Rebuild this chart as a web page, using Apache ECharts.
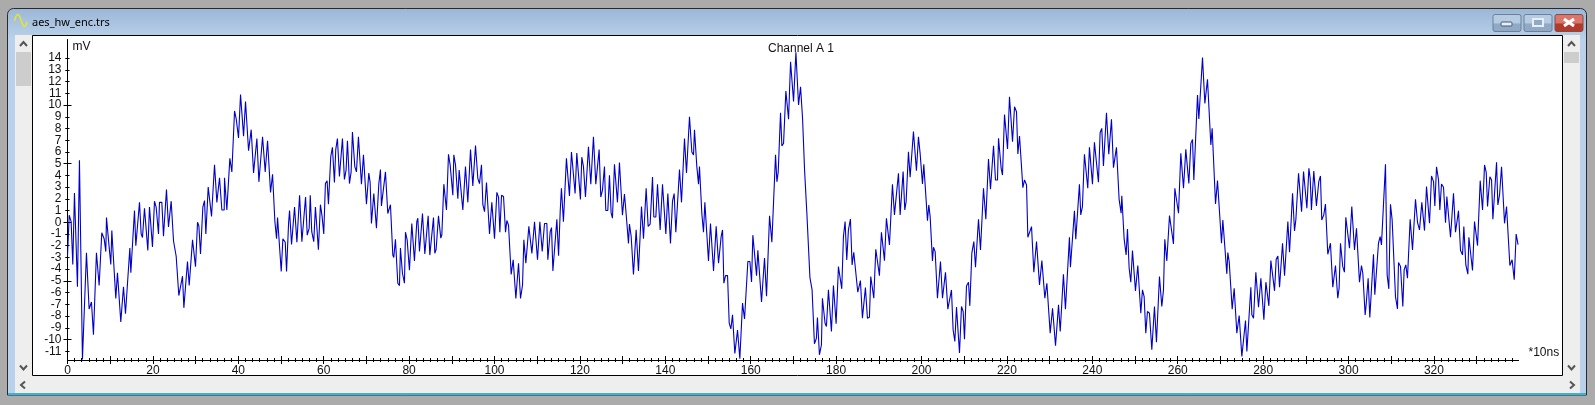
<!DOCTYPE html>
<html><head><meta charset="utf-8">
<style>html,body{margin:0;padding:0;background:#ababab}#c{width:1595px;height:405px}</style>
<script src="https://cdn.jsdelivr.net/npm/echarts@6/dist/echarts.min.js"></script>
</head><body><div id="c"></div>
<script>
const windowTitle = 'aes_hw_enc.trs';
const chartTitle = 'Channel A 1';
const yUnit = 'mV';
const xUnit = '*10ns';
// [time in units of 10 ns, millivolts]
const trace0to57 = [[0,-2.9],[0.4,0.6],[0.85,0.05],[1.24,-3.6],[1.63,2.5],[2.33,-5.5],[2.8,5.3],[3.5,-11.7],[4.44,-2.6],[5.06,-7.4],[5.61,-6.8],[6.08,-9.6],[6.78,-2.6],[7.41,-5.4],[8.03,-0.9],[8.58,-1.4],[8.97,-2.5],[9.13,0.4],[9.75,-2.1],[10.14,-3.6],[10.38,-0.7],[11.31,-6.5],[11.7,-4.3],[12.48,-8.5],[13.11,-5.5],[13.58,-7.8],[14.6,-2.2],[14.83,-4.3],[15.69,1],[16,-2],[16.86,1.7],[17.25,-1],[17.56,-1.3],[18.03,1.2],[18.81,-2.4],[19.2,1.3],[19.9,-2.1],[20.37,1.8],[20.76,1.3],[21.31,-1],[21.54,1.7],[22.09,1.7],[22.48,-1.2],[23.18,2.8],[23.65,-0.4],[24.28,1.8],[24.83,-1.6],[25.45,-2.9],[26.07,-6.25],[26.39,-6.3],[26.93,-4.6],[27.25,-7.3],[27.56,-7.4],[28.1,-3.35],[28.5,-5.4],[28.8,-5.5],[29.28,-1.5],[29.98,-3.8],[30.45,0],[30.76,-0.3],[31.15,-2.7],[31.7,1.3],[32.09,1.85],[32.4,-1],[32.95,3],[33.73,0.5],[34.43,4.9],[34.98,1.7],[35.6,3.8],[36.15,1.05],[36.7,1.05],[36.77,3.8],[37.32,1.05],[37.71,1.05],[38.02,5.45],[38.49,4.3],[38.88,4.2],[39.12,9.5],[39.5,8.85],[40.05,7.2],[40.52,10.9],[41.23,7.35],[41.69,10.3],[42.4,6.1],[43.02,7.9],[43.41,7.9],[43.57,4.2],[44.35,7.15],[44.82,3.45],[45.68,7.3],[46.3,4.3],[46.85,6.95],[47.55,2.55],[48.02,4.1],[48.57,0.05],[48.96,-1.4],[49.19,0.4],[50.05,-4.2],[50.44,-1.4],[50.99,-1.7],[51.3,-4.2],[51.77,-0.1],[52,1],[52.47,-1.9],[53.17,1.3],[53.72,-1.7],[54.35,2.3],[54.89,-1.65],[55.75,2.15],[56.14,-1.1],[56.6,-0.5],[56.85,2.3]];
const trace57to115 = [[57.2,-0.8],[57.67,-1.65],[58.06,1.3],[58.76,-2.35],[59.23,1.5],[59.62,0.5],[60.01,-1],[60.4,3.3],[60.79,3.55],[61.11,1.55],[61.65,5.6],[62.04,6.4],[62.51,3.4],[62.82,6.2],[63.21,7.15],[63.68,3.9],[64.39,7.15],[64.85,3.65],[65.24,4.45],[65.56,6.95],[66.03,3.3],[66.42,4.3],[66.73,7.7],[67.28,4.75],[67.67,4.3],[68.13,7.3],[68.84,3.25],[69.31,5.75],[70.01,1.55],[70.56,4.2],[70.87,3.4],[71.18,-0.1],[71.73,2.45],[72.12,2.3],[72.35,-0.5],[72.9,3.25],[73.29,4.5],[73.52,1.4],[74.46,4.3],[75.01,0.75],[75.4,0.75],[75.63,1.5],[76.18,-2.8],[76.41,-3],[76.8,-1.45],[77.35,-5.2],[77.74,-5.4],[77.97,-2.2],[78.44,-4.35],[78.91,-5.2],[79.15,-0.85],[79.54,-1.5],[80.08,-4.1],[80.63,-0.1],[81.25,-3.3],[81.8,0.05],[82.04,0.35],[82.43,-2.5],[83.13,0.75],[83.68,-2.7],[84.46,0.55],[84.85,-2.8],[85.71,0.4],[86.02,-2.65],[86.33,-2.3],[86.88,0.55],[87.42,-1.35],[87.66,-1.1],[88.13,3.25],[88.75,1.05],[89.22,5.8],[89.61,4.9],[90.24,2.3],[90.47,5.75],[90.86,4.9],[91.41,2],[91.72,4.45],[92.11,4.55],[92.58,1.05],[93.2,4.75],[93.75,1.7],[94.38,6.2],[94.92,3.1],[95.55,6.55],[96.09,3.75],[96.48,3.3],[96.95,4.9],[97.27,1.5],[97.66,0.9],[98.12,3.4],[98.83,-1],[99.37,1.7],[100,-1.4],[100.55,2.55],[100.94,2.15],[101.25,-0.85],[101.64,2.3],[102.11,2.2],[102.58,-0.85],[102.89,0.15],[103.28,-0.25],[103.9,-4.45],[104.37,-3.2],[105,-6.5],[105.62,-3.5],[106.09,-6.5],[106.56,-5.35],[106.87,-1.5],[107.34,-3.5],[107.73,-3.35],[108.04,-0.35],[108.75,-2.65],[109.37,0.05],[110.07,-3.2],[110.62,0.05],[111.17,-2.5],[111.71,-0.1],[112.26,-0.1],[112.49,-3.2],[113.04,-0.8],[113.35,-0.45],[113.67,-4.15],[114.6,0.25],[115,-2.85],[115.38,0.9]];
const trace115to174 = [[115.67,2.9],[116.14,0.05],[116.84,5.45],[117.55,2.25],[118.02,6],[118.87,2.45],[119.27,5.9],[120.12,1.95],[120.44,5.55],[120.83,4.75],[121.3,2.15],[122,6.45],[122.55,3.25],[123.17,7.3],[123.72,3.25],[124.5,6.2],[124.89,2.15],[125.28,2.75],[125.75,4.75],[126.06,1],[126.53,1],[126.92,4],[127.31,0.8],[127.62,0.35],[128.09,4.95],[128.79,1.7],[129.26,5.1],[129.96,0.6],[130.43,2.4],[130.75,1.05],[131.37,-1.8],[131.6,-0.15],[132,-1.2],[132.54,-4.45],[133.17,-0.65],[133.71,-4.15],[134.42,1.35],[134.89,-1.4],[135.51,2.9],[135.98,-0.35],[136.45,-0.15],[137,3.85],[137.31,0.45],[137.78,0.45],[138.17,3.25],[138.79,-0.65],[139.34,3.25],[140.12,-1],[140.59,2.45],[141.21,-1.8],[141.68,1.8],[142.07,2.45],[142.46,-0.85],[143.32,4.5],[143.79,1.7],[144.49,7.15],[144.96,4.2],[145.66,9],[146.21,6],[146.6,5.75],[146.83,7.9],[147.38,4.75],[147.77,3.25],[148,4.75],[148.55,0.75],[148.94,-0.85],[149.26,1.7],[150.11,-3.3],[150.58,-0.1],[151.29,-4.15],[151.91,-0.35],[152.46,-3.5],[153.08,-1.2],[153.4,-0.65],[153.71,-5.2],[154.1,-4.55],[154.57,-4.55],[154.96,-8.6],[155.35,-9.1],[155.74,-7.9],[156.28,-11.2],[156.91,-9.2],[157.45,-11.65],[158.08,-6.9],[158.55,-8.25],[158.94,-8.4],[159.33,-3.35],[159.8,-3.35],[160.19,-5.1],[160.5,-1.1],[161.36,-4.55],[161.67,-2.4],[162.53,-6.8],[163.23,-3.05],[163.7,-6.3],[164.41,0.55],[164.95,-1.7],[165.81,5.75],[166.13,3.45],[166.44,4.3],[166.98,9.35],[167.3,6.5],[167.69,6.75],[168.23,11.2],[168.86,8.8],[169.33,13.7],[170.03,10.3],[170.58,14.5],[171.2,10],[171.67,11.55],[172.14,8.85],[172.61,4.45],[173.15,0.75],[173.86,-4.7]];
const trace174to232 = [[174.37,-5.77],[174.92,-10.37],[175.38,-9.89],[175.62,-8.13],[176.09,-11.31],[176.56,-10.45],[176.79,-6.48],[177.41,-8.61],[177.73,-8.89],[178.2,-5.77],[178.9,-9.32],[179.37,-5.4],[180,-8.66],[180.54,-3.78],[180.77,-3.64],[181.32,-5.68],[181.71,-1.22],[182.1,0.06],[182.49,-3.21],[182.88,-0.65],[183.35,0.28],[183.74,-3.64],[184.13,-2.56],[184.52,-2.64],[185.07,-5.97],[185.69,-4.97],[186.16,-8.18],[186.4,-8.18],[186.86,-5.57],[187.33,-8.18],[187.8,-8.1],[188.11,-4.63],[188.82,-6.48],[189.29,-2.3],[190.14,-4.55],[190.61,-0.85],[191.32,-3.27],[191.78,0.34],[192.1,0.48],[192.49,-1.93],[193.19,3.24],[193.66,0.63],[194.6,4.18],[194.99,0.63],[195.69,4.32],[196.08,1.05],[196.39,1.76],[196.94,6.02],[197.33,3.84],[197.72,3.84],[198.11,7.73],[198.81,4.4],[199.28,7.3],[199.67,5.88],[200.22,3.27],[200.53,4.94],[201.39,0.14],[201.7,1.48],[202.02,0.48],[202.56,-3.3],[202.8,-2.13],[203.19,-2.5],[203.73,-6.48],[204.44,-3.35],[204.91,-6.48],[205.3,-6.34],[205.61,-4.26],[206.16,-7.41],[206.47,-7.47],[207.01,-5.77],[207.4,-9.18],[207.8,-10.17],[208.19,-7.24],[208.89,-11.16],[209.36,-7.19],[209.75,-7.61],[210.06,-9.97],[210.53,-5.43],[211,-5.11],[211.31,-7.13],[211.78,-2.64],[212.25,-1.65],[212.64,-3.84],[213.34,0.26],[213.81,-2.36],[214.51,2.9],[215.06,0.26],[215.68,5.4],[216.15,2.81],[216.86,6.53],[217.32,3.61],[217.79,3.61],[218.03,7.16],[218.65,4.6],[218.96,4.03],[219.43,9.2],[220.14,6.25],[220.6,10.71],[221.31,6.88],[221.78,9.86],[222.24,9.43],[222.56,5.82],[222.95,7.36],[223.41,7.36],[223.73,2.95],[224.12,3.61],[224.59,3.18],[224.9,-1.28],[225.29,-1.28],[225.76,-0.37],[226.3,-4.26],[226.54,-4.26],[226.93,-1.65],[227.63,-5.34],[228.18,-3.27],[228.88,-6.48],[229.35,-5.2],[230.13,-9.46],[230.68,-7.33],[231.38,-10.54],[232.08,-7.05],[232.48,-9.32]];
const trace233to291 = [[233.23,-4.43],[233.7,-7.41],[234.64,-1.28],[234.87,-3.84],[235.81,0.99],[236.12,-1.45],[236.98,3.24],[237.29,0.63],[237.68,1.34],[238.15,5.8],[238.93,2.9],[239.32,6.39],[240.03,3.24],[240.49,6.82],[241.43,3.41],[241.82,7.64],[242.21,8.01],[242.6,4.8],[243.31,9.35],[243.85,5.8],[244.48,8.78],[244.95,4.66],[245.65,6.39],[246.27,1.96],[246.74,0.77],[246.9,2.27],[247.45,-1.42],[247.91,-2.78],[248.23,-0.57],[248.62,-3.92],[249.01,-5.11],[249.4,-2.41],[250.1,-5.85],[250.65,-3.69],[251.35,-7.76],[251.74,-5.77],[252.13,-6.34],[252.52,-9.46],[252.91,-7.61],[253.38,-7.76],[253.93,-10.88],[254.55,-7.19],[255.02,-10.23],[255.72,-4.63],[256.27,-7.19],[256.66,-5.77],[256.97,-1.45],[257.44,-3.3],[257.83,-3.3],[258.07,0.57],[259,-1.85],[259.32,2.9],[260.18,0.77],[260.72,5.88],[261.35,2.9],[261.89,6.22],[262.6,3.32],[263.07,6.73],[263.46,7.07],[263.77,3.61],[264.63,10.85],[264.94,8.81],[265.8,14.06],[266.35,10.14],[266.97,12.19],[267.75,6.59],[268.06,8.01],[268.85,1.56],[269.31,3.55],[270.25,-1.79],[270.56,0.2],[271.5,-4.4],[271.73,-2.59],[272.05,-3.35],[272.75,-7.41],[273.22,-5.63],[273.84,-9.46],[274.39,-7.95],[275.01,-11.45],[275.87,-8.38],[276.19,-11.02],[277.12,-5.54],[277.36,-7.9],[277.75,-8.18],[278.29,-4.26],[278.92,-7.24],[279.47,-4.77],[280.17,-8.32],[280.64,-5.11],[281.03,-5.2],[281.34,-7.13],[281.81,-3.27],[282.2,-3.21],[282.67,-5.85],[283.06,-3.15],[283.45,-2.87],[283.84,-5.54],[284.54,-1.79],[285.01,-4.57],[285.79,0.06],[286.18,-2.56],[286.89,2.47],[287.35,-0.74],[287.67,0.26],[288.29,4.18],[289,0.91],[289.46,4.32],[290.24,1.19],[290.71,4.6],[291.02,3.75]];
const trace291to340 = [[291.31,1.05],[291.86,4.38],[292.25,4.55],[292.48,1.39],[293.03,3.47],[293.42,3.95],[293.73,0.2],[294.2,0.63],[294.59,1.56],[295.14,-2.73],[295.37,-2.73],[295.76,-1.79],[296.31,-5.54],[296.55,-5.54],[296.94,-3.69],[297.48,-6.48],[297.79,-5.63],[298.11,-1.79],[298.65,-3.78],[299.04,-4.26],[299.36,0.43],[300.22,-2.22],[300.76,1.34],[301.39,-2.36],[301.86,-0.51],[302.56,-5.11],[303.03,-3.69],[303.34,-4.35],[303.89,-7.9],[304.12,-7.05],[304.59,-4.77],[304.98,-8.13],[305.84,-2.73],[306.15,-6.19],[307.01,-1.79],[307.4,-1.22],[307.71,-1.93],[308.65,4.94],[309.04,-4.49],[309.43,-5.68],[309.82,1.53],[310.21,0.2],[310.99,-6.34],[311.46,-7.39],[311.7,-3.44],[312.17,-3.78],[312.71,-7.19],[313.02,-4.06],[313.41,-3.64],[313.8,-4.77],[314.43,0.26],[314.98,-2.36],[315.68,1.96],[316.15,0],[316.62,-0.65],[317.16,1.7],[317.79,-0.71],[318.26,3.04],[318.96,-0.09],[319.43,3.95],[319.9,3.47],[320.21,1.39],[320.6,4.74],[321.07,3.61],[321.38,1.05],[321.77,3.27],[322.24,2.98],[322.71,-0.03],[323.02,2.19],[323.41,2.33],[323.88,-1.28],[324.58,2.47],[325.05,-0.85],[325.36,-0.85],[325.75,0.99],[326.22,-2.41],[326.69,-2.78],[327,-0.37],[327.47,-3.64],[327.94,-4.43],[328.18,-1.28],[329.03,-4.12],[329.5,0.06],[330.21,-1.99],[330.83,3.55],[331.38,1.05],[331.85,4.89],[332.24,4.26],[332.55,1.34],[333.1,3.89],[333.49,3.61],[333.8,0.26],[334.66,5.11],[334.97,1.48],[335.36,2.33],[335.83,4.74],[336.53,-0.09],[337,1.34],[337.78,-3.69],[338.3,-3.2],[338.8,-4.9],[339.25,-1],[339.7,-1.9]];
const xTickLabels = [0,20,40,60,80,100,120,140,160,180,200,220,240,260,280,300,320];
const xMajorTicks = [0,10,20,30,40,50,60,70,80,90,100,110,120,130,140,150,160,170,180,190,200,210,220,230,240,250,260,270,280,290,300,310,320,330];
const yTickLabels = [-11,-10,-9,-8,-7,-6,-5,-4,-3,-2,-1,0,1,2,3,4,5,6,7,8,9,10,11,12,13,14];
const yMajorTicks = [-10,-5,0,5,10];
const xMin = 0, xMax = 339.8, yMin = -11.75, yMax = 15.55;

const traceData = [].concat(trace0to57, trace57to115, trace115to174, trace174to232, trace233to291, trace291to340);
const xMinorTicks = [];
for (let i = 0; i * 10 / 6 <= xMax; i++) xMinorTicks.push(i * 10 / 6);
// The tick labels sit closer together than their own height, so the odd and even ones live on two overlaid axes.
const yEvenLabels = yTickLabels.filter(v => v % 2 === 0);
const yOddLabels = yTickLabels.filter(v => v % 2 !== 0);

const TEXT = '#111';
const FONT = '"Liberation Sans", Arial, sans-serif';
function xAxisDef(ticks, len, inside, labels) {
  return { type:'value', position:'bottom', min:xMin, max:xMax, offset:0, splitLine:{show:false},
    axisLine:{onZero:false, show:true, lineStyle:{color:'#000',width:1}},
    axisTick:{show:true, customValues:ticks, length:len, inside:inside, lineStyle:{color:'#000',width:1}},
    axisLabel: labels ? {show:true, customValues:labels, margin:5, fontSize:12, fontFamily:FONT, color:TEXT, showMinLabel:true, showMaxLabel:true} : {show:false} };
}
function yAxisDef(ticks, len, inside, labels) {
  return { type:'value', position:'left', min:yMin, max:yMax, offset:0, splitLine:{show:false},
    axisLine:{onZero:false, show:true, lineStyle:{color:'#000',width:1}},
    axisTick:{show:true, customValues:ticks, length:len, inside:inside, lineStyle:{color:'#000',width:1}},
    axisLabel: labels ? {show:true, customValues:labels, margin:inside ? 8 : 6, fontSize:12, hideOverlap:false, showMinLabel:true, showMaxLabel:true, fontFamily:FONT, color:TEXT} : {show:false} };
}
const xMain = xAxisDef(xMinorTicks, 2, false, xTickLabels);
xMain.name = xUnit; xMain.nameLocation = 'end'; xMain.nameGap = 10;
xMain.nameTextStyle = {fontSize:12, fontFamily:FONT, color:TEXT, align:'left', verticalAlign:'bottom', padding:[0,0,1,0]};
const yMain = yAxisDef(yTickLabels, 2, false, yEvenLabels);
yMain.name = yUnit; yMain.nameLocation = 'end'; yMain.nameGap = -7;
yMain.nameTextStyle = {fontSize:12, fontFamily:FONT, color:TEXT, align:'left', verticalAlign:'middle', padding:[0,0,0,5]};
const yOddAxis = yAxisDef(yTickLabels, 2, false, yOddLabels);

function chevron(x, y, dir) {
  const s = 3.5, pts = {
    up:[[x-s,y+2],[x,y-2],[x+s,y+2]], down:[[x-s,y-2],[x,y+2],[x+s,y-2]],
    left:[[x+2,y-s],[x-2,y],[x+2,y+s]], right:[[x-2,y-s],[x+2,y],[x-2,y+s]] }[dir];
  return {type:'polyline', z:-5, shape:{points:pts}, style:{stroke:'#555', lineWidth:2, fill:null}};
}
function button(x, w, top, bottom, border) {
  return {type:'rect', z:-5, shape:{x:x, y:14.5, width:w, height:17, r:2},
    style:{stroke:border, lineWidth:1, fill:{type:'linear',x:0,y:0,x2:0,y2:1,colorStops:[{offset:0,color:top},{offset:0.5,color:top},{offset:0.55,color:bottom},{offset:1,color:bottom}]}}};
}
const chrome = [
  {type:'rect', z:-9, shape:{x:7.5,y:8.5,width:1579,height:386.5,r:[6,6,0,0]},
    style:{fill:{type:'linear',x:0,y:0,x2:0,y2:1,colorStops:[{offset:0,color:'#9bb7d6'},{offset:0.08,color:'#b9d1ea'},{offset:1,color:'#b9d1ea'}]}, stroke:'#2a2a2a', lineWidth:1}},
  {type:'rect', z:-8, shape:{x:8,y:393,width:1578,height:2}, style:{fill:'#35b4dc'}},
  {type:'rect', z:-8, shape:{x:15,y:35,width:1565,height:358}, style:{fill:'#eeeeee'}},
  {type:'rect', z:-7, shape:{x:32.5,y:35.5,width:1530,height:340}, style:{fill:'#ffffff', stroke:'#000', lineWidth:1}},
  {type:'rect', z:-7, shape:{x:16,y:52,width:15,height:34}, style:{fill:'#cdcdcd'}},
  {type:'rect', z:-7, shape:{x:1564,y:52,width:15,height:11}, style:{fill:'#cdcdcd'}},
  chevron(23.5,44,'up'), chevron(23.5,367.5,'down'), chevron(23,385,'left'),
  chevron(1571.5,44,'up'), chevron(1571.5,367.5,'down'), chevron(1572,385,'right'),
  {type:'text', z:-5, style:{x:32, y:23, text:windowTitle, font:'11px "Noto Sans", sans-serif', fill:'#000', textVerticalAlign:'middle'}},
  {type:'bezierCurve', z:-5, shape:{x1:14.5,y1:21,cpx1:17,cpy1:11,cpx2:19,cpy2:14,x2:21,y2:20}, style:{stroke:'#e8e820', lineWidth:1.5, fill:null}},
  {type:'bezierCurve', z:-5, shape:{x1:21,y1:20,cpx1:23,cpy1:27,cpx2:25,cpy2:29,x2:27,y2:22}, style:{stroke:'#e8e820', lineWidth:1.5, fill:null}},
  button(1493,28,'#b5cce2','#8fa9c6','#6f7f94'),
  {type:'rect', z:-4, shape:{x:1501,y:22,width:11,height:4,r:1}, style:{fill:'#e8eef5', stroke:'#4a5a70', lineWidth:1}},
  button(1524,28,'#b5cce2','#8fa9c6','#6f7f94'),
  {type:'rect', z:-4, shape:{x:1533,y:19,width:10,height:7}, style:{fill:'#8fa9c6', stroke:'#e8eef5', lineWidth:2}},
  button(1555,28,'#d9776a','#b23a2c','#8a4a44'),
  {type:'polyline', z:-4, shape:{points:[[1564,19],[1574,26]]}, style:{stroke:'#fff', lineWidth:3, fill:null}},
  {type:'polyline', z:-4, shape:{points:[[1574,19],[1564,26]]}, style:{stroke:'#fff', lineWidth:3, fill:null}}
];

const chart = echarts.init(document.getElementById('c'));
chart.setOption({
  animation:false,
  backgroundColor:'#ababab',
  title:{text:chartTitle, left:796, top:37, textAlign:'center', textStyle:{fontSize:12, fontWeight:'normal', fontFamily:FONT, color:TEXT, lineHeight:14}},
  grid:{left:67.5, top:40, width:1451, height:320, containLabel:false},
  xAxis:[xMain, xAxisDef(xMinorTicks,2,true), xAxisDef(xMajorTicks,4,false), xAxisDef(xMajorTicks,4,true)],
  yAxis:[yMain, yOddAxis, yAxisDef(yTickLabels,2,true), yAxisDef(yMajorTicks,4,false), yAxisDef(yMajorTicks,4,true)],
  graphic:chrome,
  series:[{type:'line', name:chartTitle, data:traceData, showSymbol:false, symbol:'none', smooth:false,
    clip:true, lineStyle:{color:'#0000c8', width:1.1}, itemStyle:{color:'#0000c8'}}]
});
</script>
</body></html>
